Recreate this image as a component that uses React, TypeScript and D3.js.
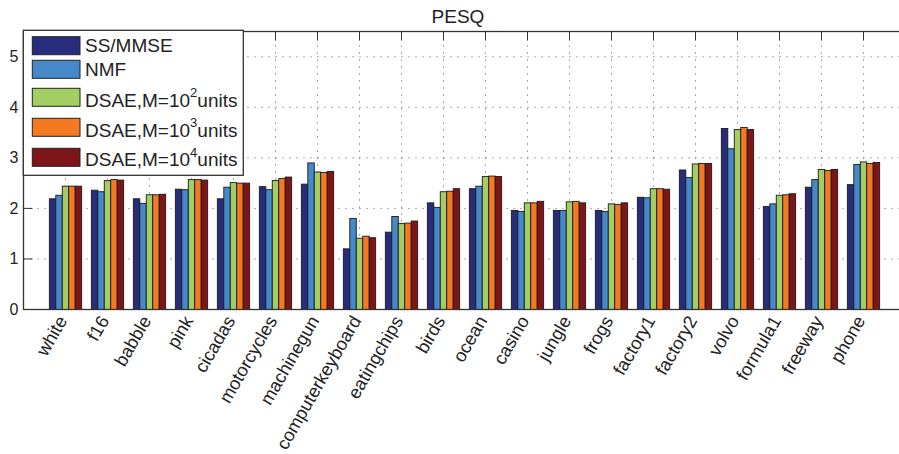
import React from "react";
import * as d3 from "d3";

const categories = [
  "white", "f16", "babble", "pink", "cicadas", "motorcycles", "machinegun",
  "computerkeyboard", "eatingchips", "birds", "ocean", "casino", "jungle",
  "frogs", "factory1", "factory2", "volvo", "formula1", "freeway", "phone",
];

const ssMmse = [2.19, 2.36, 2.19, 2.38, 2.19, 2.43, 2.48, 1.20, 1.53, 2.11, 2.39, 1.96, 1.96, 1.96, 2.22, 2.76, 3.58, 2.04, 2.42, 2.47];
const nmf = [2.26, 2.33, 2.10, 2.37, 2.42, 2.37, 2.90, 1.80, 1.84, 2.02, 2.44, 1.94, 1.96, 1.94, 2.21, 2.61, 3.18, 2.09, 2.57, 2.87];
const dsae2 = [2.44, 2.55, 2.27, 2.57, 2.51, 2.55, 2.72, 1.41, 1.70, 2.33, 2.63, 2.11, 2.13, 2.09, 2.39, 2.88, 3.56, 2.26, 2.77, 2.92];
const dsae3 = [2.44, 2.57, 2.27, 2.57, 2.50, 2.59, 2.71, 1.45, 1.71, 2.34, 2.64, 2.11, 2.14, 2.08, 2.39, 2.89, 3.60, 2.27, 2.75, 2.89];
const dsae4 = [2.44, 2.56, 2.28, 2.56, 2.50, 2.62, 2.73, 1.42, 1.75, 2.39, 2.63, 2.14, 2.11, 2.11, 2.38, 2.89, 3.56, 2.29, 2.77, 2.91];

const seriesNames = ["SS/MMSE", "NMF", "DSAE,M=10^2units", "DSAE,M=10^3units", "DSAE,M=10^4units"];
const seriesValues = [ssMmse, nmf, dsae2, dsae3, dsae4];
const seriesColors = ["#272c7c", "#4589cb", "#a2ce63", "#f47a22", "#7e1519"];
const legendExp = ["", "", "2", "3", "4"];

const yTicks = [0, 1, 2, 3, 4, 5];
const title = "PESQ";

const W = 899;
const H = 454;
const FONT = "'Liberation Sans', Arial, Helvetica, sans-serif";

export default function App() {
  const left = 23.5;
  const top = 31.5;
  const bottom = 309.5;
  const x = d3.scaleLinear().domain([0, categories.length + 1]).range([left, left + 42 * 21]);
  const y = d3.scaleLinear().domain([0, 5.5]).range([bottom, top]);
  const unit = x(1) - x(0);
  const gw = Math.min(0.8, 5 / 6.5) * unit;
  const sub = d3.scaleBand<number>().domain(d3.range(5)).range([-gw / 2, gw / 2]).padding(0);
  const right = x(21);

  const gridColor = "#555";
  return (
    <svg width={W} height={H} style={{ position: "absolute", left: 0, top: 0, background: "#fff" }} fontFamily={FONT}>
      <rect x={0} y={0} width={W} height={H} fill="#fff" />
      {/* grid */}
      {yTicks.filter((t) => t > 0).map((t) => (
        <line key={"gy" + t} x1={left} x2={right} y1={y(t)} y2={y(t)} stroke={gridColor} strokeWidth={1} strokeDasharray="1,6" />
      ))}
      {categories.map((c, i) => (
        <line key={"gx" + c} x1={x(i + 1)} x2={x(i + 1)} y1={top} y2={bottom} stroke={gridColor} strokeWidth={1} strokeDasharray="1,6" />
      ))}
      {/* ticks (behind bars) */}
      {categories.map((c, i) => (
        <g key={"tx" + c}>
          <line x1={x(i + 1)} x2={x(i + 1)} y1={bottom} y2={bottom - 9} stroke="#333" strokeWidth={1} />
          <line x1={x(i + 1)} x2={x(i + 1)} y1={top} y2={top + 9} stroke="#333" strokeWidth={1} />
        </g>
      ))}
      {/* bars */}
      {categories.map((c, i) => (
        <g key={"bar" + c}>
          {seriesValues.map((vals, s) => (
            <rect
              key={s}
              x={x(i + 1) + (sub(s) as number)}
              y={y(vals[i])}
              width={sub.bandwidth()}
              height={y(0) - y(vals[i])}
              fill={seriesColors[s]}
              stroke="#1a1a1a"
              strokeWidth={0.9}
            />
          ))}
        </g>
      ))}
      {/* axes box */}
      <rect x={left} y={top} width={right - left} height={bottom - top} fill="none" stroke="#333" strokeWidth={1.3} />
      {yTicks.map((t) => (
        <g key={"ty" + t}>
          <line x1={left} x2={left + 9} y1={y(t)} y2={y(t)} stroke="#333" strokeWidth={1} />
          <text x={18.5} y={y(t)} textAnchor="end" dominantBaseline="central" fontSize={16} fill="#222">
            {t}
          </text>
        </g>
      ))}
      {/* x labels */}
      {categories.map((c, i) => (
        <text
          key={"xl" + c}
          transform={`translate(${x(i + 1) - 3},${bottom + 8}) rotate(-60)`}
          textAnchor="end"
          dominantBaseline="central"
          fontSize={18.2}
          fill="#222"
        >
          {c}
        </text>
      ))}
      {/* title */}
      <text x={458} y={23.3} textAnchor="middle" fontSize={19} fill="#222">
        {title}
      </text>
      {/* legend */}
      <rect x={23.3} y={30.3} width={220} height={145} fill="#fff" stroke="#333" strokeWidth={1.3} />
      {seriesNames.map((n, s) => {
        const sw = [36.7, 60.3, 88.3, 118.3, 148.3][s];
        const base = [52.3, 76.3, 106.5, 136.5, 166][s];
        return (
          <g key={"lg" + s}>
            <rect x={32.3} y={sw} width={47.7} height={18} fill={seriesColors[s]} stroke="#222" strokeWidth={1} />
            {legendExp[s] === "" ? (
              <text x={85} y={base} fontSize={19} fill="#222">
                {n}
              </text>
            ) : (
              <text x={85} y={base} fontSize={19} fill="#222">
                {n.split("^")[0]}
                <tspan fontSize={13} dy={-9.5}>{legendExp[s]}</tspan>
                <tspan dy={9.5}>{n.split("^")[1].slice(1)}</tspan>
              </text>
            )}
          </g>
        );
      })}
    </svg>
  );
}
